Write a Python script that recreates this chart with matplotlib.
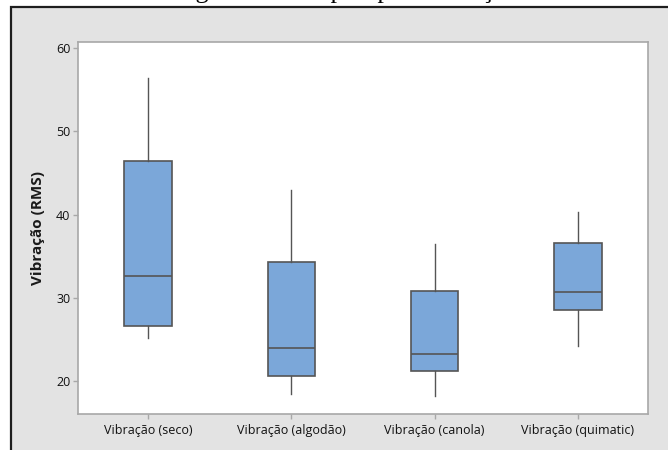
import matplotlib
matplotlib.use("Agg")
import matplotlib.pyplot as plt
from matplotlib.patches import Rectangle

# five-number summaries per condition (whisker low, Q1, median, Q3, whisker high)
categories = ["Vibração (seco)", "Vibração (algodão)", "Vibração (canola)", "Vibração (quimatic)"]
whis_lo = [25.2, 18.5, 18.3, 24.2]
q1 = [26.7, 20.7, 21.2, 28.6]
median = [32.6, 24.0, 23.3, 30.7]
q3 = [46.5, 34.3, 30.8, 36.6]
whis_hi = [56.4, 43.0, 36.5, 40.3]
yticks = [20, 30, 40, 50, 60]

plt.rcParams["font.family"] = ["Open Sans", "DejaVu Sans"]

W, H = 668, 450
fig = plt.figure(figsize=(W / 100, H / 100), dpi=100)
fig.patch.set_facecolor("white")

# gray frame with dark border (left/top edges visible)
frame = Rectangle((11 / W, -0.1), 1.2, 1.1 - 7.5 / H, transform=fig.transFigure,
                  facecolor="#e3e3e3", edgecolor="#1e1e1e", linewidth=1.6, zorder=-1)
fig.add_artist(frame)

# caption above the frame, mostly clipped by the figure edge
fig.text(174 / W, 1.0 + 2.2 / H, "Figura 8 – Boxplot para vibração",
         family="Liberation Serif", fontsize=18.7, ha="left", va="baseline", color="black")

ax = fig.add_axes([78 / W, 36 / H, 570 / W, 371.7 / H])
ax.set_facecolor("white")

stats = []
for i, name in enumerate(categories):
    stats.append({"label": name, "whislo": whis_lo[i], "q1": q1[i], "med": median[i],
                  "q3": q3[i], "whishi": whis_hi[i], "fliers": []})

ax.bxp(stats, positions=range(len(categories)), widths=0.333, patch_artist=True,
       showcaps=False, showfliers=False,
       boxprops=dict(facecolor="#7ba7d9", edgecolor="#555555", linewidth=1.2),
       medianprops=dict(color="#555555", linewidth=1.2),
       whiskerprops=dict(color="#555555", linewidth=1.0))

ax.set_xlim(-0.49, 3.49)
ax.set_ylim(16.1, 60.7)
ax.set_yticks(yticks)
ax.set_xticks(range(len(categories)))
ax.set_xticklabels(categories)

for s in ax.spines.values():
    s.set_color("#a8a8a8")
    s.set_linewidth(1.2)
ax.tick_params(axis="both", colors="#a8a8a8", length=3.5, width=1.0,
               labelcolor="#111111", labelsize=9)
ax.tick_params(axis="x", pad=4)
ax.tick_params(axis="y", pad=2)

ax.set_ylabel("Vibração (RMS)", fontsize=11, fontweight="bold", color="#1a1a1a", labelpad=8)

fig.savefig("out.png", dpi=100)
